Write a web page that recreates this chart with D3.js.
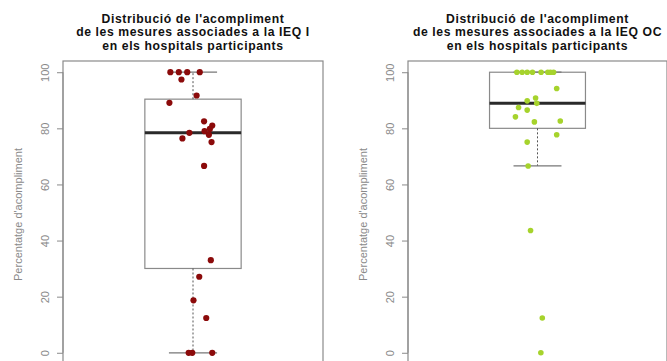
<!DOCTYPE html>
<html>
<head>
<meta charset="utf-8">
<script src="https://cdn.jsdelivr.net/npm/d3@7"></script>
<style>
  html, body { margin: 0; padding: 0; background: #fff; }
  svg { display: block; }
  text { font-family: "Liberation Sans", Arial, sans-serif; }
</style>
</head>
<body>
<svg id="chart" width="667" height="361"></svg>
<script>
// Compliance percentage per participating hospital
const ieqIValues = [100, 100, 100, 100, 97.4, 91.7, 89.1, 82.5, 81.0, 79.8, 79.0, 78.4,
                    77.7, 76.4, 75.1, 66.6, 33.0, 27.1, 18.7, 12.4, 0, 0, 0];
// horizontal jitter of each point, in x-axis units
const ieqIJitter = [-0.094, -0.059, -0.024, 0.028, -0.048, 0.015, -0.098, 0.046, 0.080, 0.070, 0.048, -0.015,
                    0.066, -0.044, 0.077, 0.046, 0.074, 0.026, 0.002, 0.055, -0.018, -0.003, 0.080];

const ieqOCValues = [100, 100, 100, 100, 100, 100, 100, 100, 94.2, 90.8, 89.8, 88.9,
                     87.4, 86.5, 84.1, 82.6, 82.3, 77.7, 75.1, 66.6, 43.6, 12.4, 0];
const ieqOCJitter = [-0.086, -0.064, -0.043, -0.021, 0.015, 0.043, 0.054, 0.067, 0.080, -0.008, -0.043, -0.003,
                     -0.079, -0.043, -0.092, 0.095, -0.013, 0.080, -0.043, -0.039, -0.029, 0.020, 0.014];

const titleI = ["Distribució de l'acompliment", "de les mesures associades a la IEQ I", "en els hospitals participants"];
const titleOC = ["Distribució de l'acompliment", "de les mesures associades a la IEQ OC", "en els hospitals participants"];
const yTicks = [0, 20, 40, 60, 80, 100];
const yLabel = "Percentatge d'acompliment";

const panels = [
  { title: titleI, values: ieqIValues, jitter: ieqIJitter, color: "#8b0a0a", r: 3.1, left: 63, right: 323 },
  { title: titleOC, values: ieqOCValues, jitter: ieqOCJitter, color: "#a6d32c", r: 2.8, left: 408, right: 667 }
];

const svg = d3.select("#chart");
const plotTop = 61, plotBottom = 364;

// Tukey five-number summary (as used for box hinges)
function fivenum(arr) {
  const x = arr.slice().sort((a, b) => a - b);
  const n = x.length;
  const n4 = Math.floor((n + 3) / 2) / 2;
  const d = [1, n4, (n + 1) / 2, n + 1 - n4, n];
  return d.map(v => 0.5 * (x[Math.floor(v) - 1] + x[Math.ceil(v) - 1]));
}

const y = d3.scaleLinear().domain([-4, 104]).range([plotBottom, plotTop]);

panels.forEach(p => {
  const g = svg.append("g");
  const x = d3.scaleLinear().domain([0.46, 1.54]).range([p.left, p.right]);

  // stats
  const [mn, q1, med, q3, mx] = fivenum(p.values);
  const iqr = q3 - q1;
  const inside = p.values.filter(v => v >= q1 - 1.5 * iqr && v <= q3 + 1.5 * iqr);
  const wLo = d3.min(inside), wHi = d3.max(inside);

  // box
  g.append("rect")
    .attr("x", x(0.8)).attr("y", y(q3))
    .attr("width", x(1.2) - x(0.8)).attr("height", y(q1) - y(q3))
    .attr("fill", "none").attr("stroke", "#8a8a8a").attr("stroke-width", 1.2);
  // whiskers
  g.append("line").attr("x1", x(1)).attr("x2", x(1)).attr("y1", y(q3)).attr("y2", y(wHi))
    .attr("stroke", "#555").attr("stroke-dasharray", "2,2");
  g.append("line").attr("x1", x(1)).attr("x2", x(1)).attr("y1", y(q1)).attr("y2", y(wLo))
    .attr("stroke", "#555").attr("stroke-dasharray", "2,2");
  // staples
  [wHi, wLo].forEach(w => {
    g.append("line").attr("x1", x(0.9)).attr("x2", x(1.1)).attr("y1", y(w)).attr("y2", y(w))
      .attr("stroke", "#777").attr("stroke-width", 1.2);
  });
  // median
  g.append("line").attr("x1", x(0.8)).attr("x2", x(1.2)).attr("y1", y(med)).attr("y2", y(med))
    .attr("stroke", "#2a2a2a").attr("stroke-width", 3);

  // jittered points
  g.selectAll("circle.pt").data(p.values).join("circle")
    .attr("class", "pt")
    .attr("cx", (d, i) => x(1 + p.jitter[i]))
    .attr("cy", d => y(d))
    .attr("r", p.r)
    .attr("fill", p.color);

  // frame
  g.append("rect")
    .attr("x", p.left).attr("y", plotTop)
    .attr("width", p.right - p.left).attr("height", plotBottom - plotTop)
    .attr("fill", "none").attr("stroke", "#8a8a8a").attr("stroke-width", 1.2);

  // y axis
  const axis = g.append("g").attr("transform", `translate(${p.left},0)`)
    .call(d3.axisLeft(y).tickValues(yTicks).tickSize(6).tickPadding(0).tickFormat(d3.format("d")));
  axis.select(".domain").attr("stroke", "#8a8a8a").attr("d", `M0,${y(0)}V${y(100)}`);
  axis.selectAll(".tick line").attr("stroke", "#8a8a8a");
  axis.selectAll(".tick text")
    .attr("fill", "#8a8a8a").attr("font-size", 11)
    .attr("x", null).attr("dy", null)
    .attr("text-anchor", "middle")
    .attr("transform", "translate(-18,0) rotate(-90)")
    .attr("dy", "0.35em");

  // y label
  g.append("text")
    .attr("transform", `translate(${p.left - 45},${(plotTop + plotBottom) / 2 + 2}) rotate(-90)`)
    .attr("text-anchor", "middle").attr("dy", "0.35em")
    .attr("font-size", 11).attr("fill", "#8a8a8a")
    .text(yLabel);

  // title, three lines
  const cx = (p.left + p.right) / 2;
  g.append("text")
    .attr("x", cx).attr("y", 22.5)
    .attr("text-anchor", "middle").attr("font-size", 12.2).attr("font-weight", "bold")
    .attr("letter-spacing", 0.6).attr("fill", "#111")
    .selectAll("tspan").data(p.title).join("tspan")
    .attr("x", cx).attr("dy", (d, i) => i === 0 ? 0 : 13.5)
    .text(d => d);
});
</script>
</body>
</html>
